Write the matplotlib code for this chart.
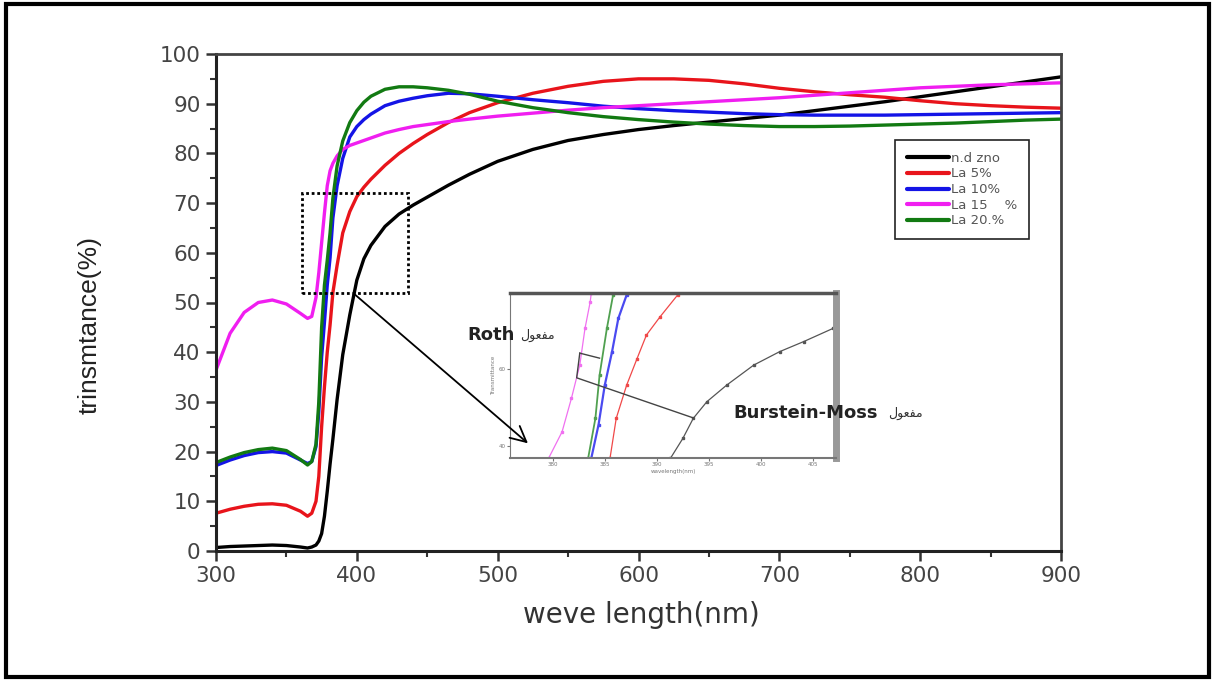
import numpy as np
import matplotlib
matplotlib.use('Agg')
import matplotlib.pyplot as plt
from matplotlib.patches import Rectangle

plt.rcParams['font.family'] = ['DejaVu Sans']

# ---- main spectra ----
wl = [300, 310, 320, 330, 340, 350, 360, 365, 368, 371, 373, 375, 377, 379, 381,
      383, 386, 390, 395, 400, 405, 410, 420, 430, 440, 450, 465, 480, 500, 525,
      550, 575, 600, 625, 650, 675, 700, 725, 750, 775, 800, 825, 850, 875, 900]

nd_zno = [0.7, 0.9, 1.0, 1.1, 1.2, 1.1, 0.8, 0.6, 0.8, 1.2, 2.0, 3.5, 7.0, 12.0, 17.5,
          22.5, 30.5, 39.5, 47.5, 54.5, 58.8, 61.5, 65.3, 67.8, 69.6, 71.2, 73.6, 75.8, 78.4, 80.8,
          82.6, 83.8, 84.8, 85.6, 86.3, 87.0, 87.7, 88.6, 89.5, 90.4, 91.4, 92.4, 93.4, 94.4, 95.4]

la5 = [7.6, 8.4, 9.0, 9.4, 9.5, 9.2, 8.0, 7.0, 7.6, 10.0, 15.0, 25.0, 33.0, 40.0, 45.5,
       52.0, 57.5, 64.0, 68.3, 71.3, 73.2, 74.8, 77.6, 80.0, 82.0, 83.8, 86.2, 88.2, 90.2, 92.1,
       93.5, 94.5, 95.0, 95.0, 94.7, 94.0, 93.1, 92.4, 91.8, 91.3, 90.6, 90.0, 89.6, 89.3, 89.1]

la10 = [17.2, 18.3, 19.2, 19.8, 20.0, 19.7, 18.3, 17.6, 18.0, 21.0, 28.0, 39.0, 46.0, 53.5, 59.0,
        67.0, 73.5, 79.0, 83.3, 85.4, 86.8, 87.9, 89.6, 90.5, 91.1, 91.6, 92.1, 92.0, 91.5, 90.8,
        90.2, 89.5, 89.0, 88.6, 88.3, 88.0, 87.8, 87.7, 87.7, 87.7, 87.8, 87.9, 88.0, 88.1, 88.2]

la15 = [36.4, 43.8, 48.0, 50.0, 50.5, 49.7, 47.8, 46.8, 47.2, 51.0, 56.0, 62.0, 68.0, 73.5, 76.5,
        78.0, 79.5, 80.8, 81.6, 82.1, 82.6, 83.1, 84.1, 84.8, 85.4, 85.8, 86.4, 86.9, 87.5, 88.1,
        88.7, 89.2, 89.6, 90.0, 90.4, 90.8, 91.2, 91.7, 92.2, 92.7, 93.2, 93.5, 93.8, 94.0, 94.2]

la20 = [17.8, 18.9, 19.8, 20.4, 20.7, 20.2, 18.4, 17.3, 18.0, 21.5, 30.0, 45.0, 53.5, 58.5, 64.0,
        71.0, 77.5, 82.5, 86.2, 88.6, 90.3, 91.5, 92.9, 93.4, 93.4, 93.2, 92.7, 91.9, 90.5, 89.2,
        88.2, 87.4, 86.8, 86.3, 85.9, 85.6, 85.4, 85.4, 85.5, 85.7, 85.9, 86.1, 86.4, 86.7, 86.9]

series_labels = ['n.d zno', 'La 5%', 'La 10%', 'La 15    %', 'La 20.%']
series_colors = ['#000000', '#e8141b', '#1414e6', '#f01ef0', '#127a12']

# zoom box (nm, %)
box_x = [361, 436]
box_y = [52, 72]

# ---- inset spectra ----
ins_mag_x = [379.6, 380.9, 381.8, 382.6, 383.1, 383.6, 383.7]
ins_mag_y = [36.8, 43.7, 52.4, 61.0, 70.5, 77.4, 79.6]
ins_grn_x = [383.4, 384.1, 384.5, 385.2, 385.8]
ins_grn_y = [36.8, 47.2, 58.4, 70.5, 79.2]
ins_blu_x = [383.7, 384.4, 385.0, 385.7, 386.3, 387.1]
ins_blu_y = [36.8, 45.5, 55.8, 64.5, 73.1, 79.2]
ins_red_x = [385.5, 386.1, 387.1, 388.1, 389.0, 390.3, 392.0]
ins_red_y = [36.8, 47.2, 55.8, 62.7, 68.8, 73.5, 79.2]
ins_blk_x = [391.3, 392.5, 393.5, 394.8, 396.7, 399.3, 401.8, 404.1, 406.9]
ins_blk_y = [36.8, 42.0, 47.2, 51.5, 55.8, 61.0, 64.5, 67.1, 70.5]
# shift marks (Roth / Burstein-Moss)
roth_x = [382.6, 384.5]
roth_y = [64.1, 62.8]
bm_x = [382.6, 382.3, 393.5]
bm_y = [64.1, 57.7, 47.3]
ins_xticks = [380, 385, 390, 395, 400, 405]
ins_yticks = [40, 60]

W, H = 1215, 681
fig = plt.figure(figsize=(W / 100, H / 100), dpi=100)
ax = fig.add_axes([216 / W, 1 - 551 / H, 845 / W, 497 / H])

for ys, lab, c in zip([nd_zno, la5, la10, la15, la20], series_labels, series_colors):
    ax.plot(wl, ys, color=c, lw=2.4, label=lab, solid_capstyle='round')

ax.add_patch(Rectangle((box_x[0], box_y[0]), box_x[1] - box_x[0], box_y[1] - box_y[0],
                       fill=False, ls=(0, (1, 1)), lw=2.0, ec='black', zorder=5))

ax.set_xlim(300, 900)
ax.set_ylim(0, 100)
ax.set_xticks(np.arange(300, 901, 100))
ax.set_xticks(np.arange(350, 900, 100), minor=True)
ax.set_yticks(np.arange(0, 101, 10))
ax.set_yticks(np.arange(5, 100, 10), minor=True)
ax.tick_params(which='major', direction='out', length=7, width=1.8, labelsize=15.5,
               labelcolor='#444444', color='#333333', pad=4)
ax.tick_params(which='minor', direction='out', length=4, width=1.5, color='#333333')
for s in ['left', 'bottom']:
    ax.spines[s].set_linewidth(2.2)
    ax.spines[s].set_color('#222222')
for s in ['top', 'right']:
    ax.spines[s].set_linewidth(2.0)
    ax.spines[s].set_color('#444444')

ax.set_xlabel('weve length(nm)', fontsize=20, color='#333333')
ax.xaxis.set_label_coords(0.503, -0.1)
ax.set_ylabel('trinsmtance(%)', fontsize=19, color='#222222',
              family=['Liberation Sans Narrow', 'Liberation Sans'])
ax.yaxis.set_label_coords(-0.135, 0.455)

leg = ax.legend(loc='upper left', bbox_to_anchor=(0.8036, 0.827), fontsize=9.5,
                handlelength=3.2, handletextpad=0.15, labelspacing=0.2,
                borderpad=0.9, borderaxespad=0, fancybox=False, framealpha=1)
leg.get_frame().set_edgecolor('#222222')
leg.get_frame().set_linewidth(1.2)
for t in leg.get_texts():
    t.set_color('#555555')
for l in leg.get_lines():
    l.set_linewidth(3)

# ---- inset ----
ins = fig.add_axes([510 / W, 1 - 458 / H, 326 / W, 165 / H])
ins.plot(ins_mag_x, ins_mag_y, color='#f070f0', lw=0.9, marker='s', ms=1.5)
ins.plot(ins_grn_x, ins_grn_y, color='#50a050', lw=1.3, marker='s', ms=1.5)
ins.plot(ins_blu_x, ins_blu_y, color='#4a4af0', lw=1.6, marker='s', ms=2)
ins.plot(ins_red_x, ins_red_y, color='#f04848', lw=0.9, marker='s', ms=2)
ins.plot(ins_blk_x, ins_blk_y, color='#555555', lw=0.9, marker='s', ms=1.5)
ins.plot(roth_x, roth_y, color='#444444', lw=1.0)
ins.plot(bm_x, bm_y, color='#444444', lw=1.0)
ins.set_xlim(375.9, 407.2)
ins.set_ylim(36.9, 79.7)
ins.set_xticks(ins_xticks)
ins.set_yticks(ins_yticks)
ins.tick_params(labelsize=4, labelcolor='#777777', length=2, color='#777777', pad=1)
ins.spines['top'].set_linewidth(2.5)
ins.spines['top'].set_color('#555555')
ins.spines['right'].set_linewidth(5)
ins.spines['right'].set_color('#999999')
ins.spines['left'].set_color('#777777')
ins.spines['bottom'].set_color('#777777')
ins.spines['bottom'].set_linewidth(1.5)
ins.set_xlabel('wavelength(nm)', fontsize=4, color='#777777', labelpad=1)
ins.set_ylabel('Transmittance', fontsize=4, color='#777777', labelpad=2)

# arrow from zoom box to inset
ins.annotate('', xy=(523, 21.3), xycoords=ax.transData,
             xytext=(396.6, 52.1), textcoords=ax.transData,
             arrowprops=dict(arrowstyle='->', lw=1.3, color='black', mutation_scale=28),
             annotation_clip=False)

arabic = '\uFEDD\uFEEE\uFECC\uFED4\uFEE3'
ar_family = ['Liberation Sans', 'DejaVu Sans']
fig.text(467 / W, 1 - 335 / H, 'Roth', fontsize=13, fontweight='bold', color='#222222',
         va='center', ha='left')
fig.text(520 / W, 1 - 335 / H, arabic, fontsize=9, color='#333333', va='center', ha='left',
         family=ar_family)
fig.text(733 / W, 1 - 413 / H, 'Burstein-Moss', fontsize=13, fontweight='bold', color='#222222',
         va='center', ha='left')
fig.text(888 / W, 1 - 413 / H, arabic, fontsize=9, color='#333333', va='center', ha='left',
         family=ar_family)

# outer frame
fig.add_artist(Rectangle((6 / W, 4 / H), 1203 / W, 673 / H, transform=fig.transFigure,
                         fill=False, lw=3, ec='black'))

fig.savefig('out.png', dpi=100)
